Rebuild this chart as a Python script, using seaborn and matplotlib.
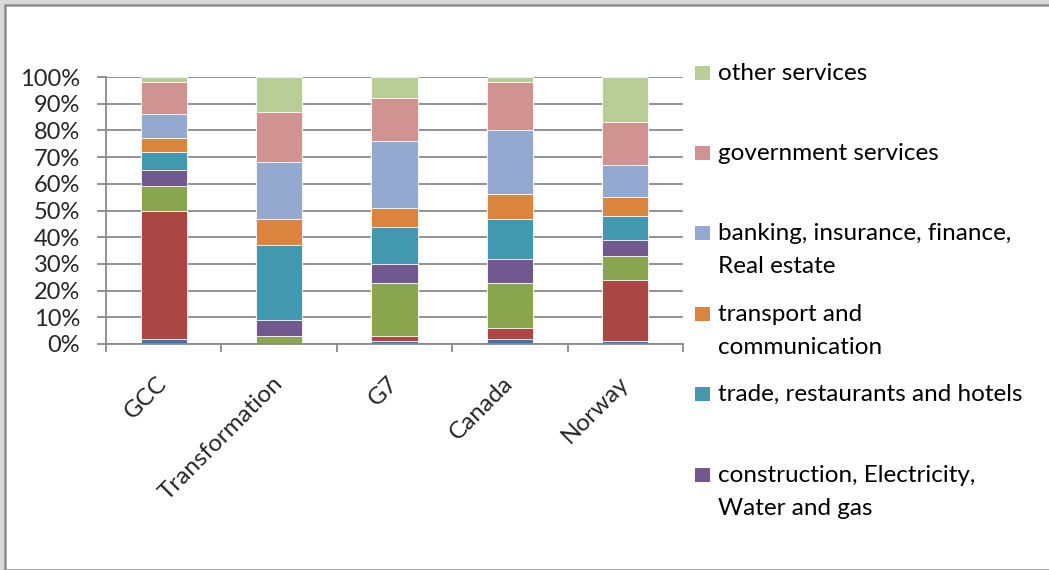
import matplotlib
matplotlib.use("Agg")
import matplotlib.pyplot as plt
from matplotlib.patches import Rectangle
import seaborn as sns
import pandas as pd
import numpy as np

# data (shares of GDP, %)
regions = ["GCC", "Transformation", "G7", "Canada", "Norway"]
sectors = [
    "agriculture",
    "mining and quarrying",
    "manufacturing",
    "construction, Electricity,\nWater and gas",
    "trade, restaurants and hotels",
    "transport and\ncommunication",
    "banking, insurance, finance,\nReal estate",
    "government services",
    "other services",
]
agriculture = [2, 0, 1, 2, 1]
mining = [48, 0, 2, 4, 23]
manufacturing = [9, 3, 20, 17, 9]
construction = [6, 6, 7, 9, 6]
trade = [7, 28, 14, 15, 9]
transport = [5, 10, 7, 9, 7]
banking = [9, 21, 25, 24, 12]
government = [12, 19, 16, 18, 16]
other = [2, 13, 8, 2, 17]
values = [agriculture, mining, manufacturing, construction, trade,
          transport, banking, government, other]

colors = ["#4572A7", "#AA4643", "#89A54E", "#71588F", "#4198AF",
          "#DB843D", "#93A9CF", "#D19392", "#B9CD96"]
# only the top six legend entries fit in the visible frame
legend_shown = 6

W, H = 1049, 570
sns.set_style("white")
plt.rcParams["font.family"] = ["Lato", "DejaVu Sans"]
fs = 17
fs_leg = 17.5

fig = plt.figure(figsize=(W / 100, H / 100), dpi=100)
fig.patch.set_facecolor("#d9d9d9")
fig.add_artist(Rectangle((5 / W, 0), 1.0, 1 - 5 / H, transform=fig.transFigure,
                         facecolor="white", edgecolor="#8c8c8c", linewidth=1.8,
                         zorder=-10))

ax = fig.add_axes([106 / W, (H - 344) / H, (683 - 106) / W, (344 - 77) / H])
ax.set_facecolor("none")

cum = np.cumsum(np.array(values), axis=0)
for i in range(len(sectors) - 1, -1, -1):
    df = pd.DataFrame({"region": regions, "share": cum[i]})
    sns.barplot(data=df, x="region", y="share", color=colors[i], saturation=1,
                width=0.4, edgecolor="white", linewidth=0.6, errorbar=None, ax=ax)

gray = "#8a8a8a"
ax.set_ylim(0, 100)
ax.set_xlim(-0.5, len(regions) - 0.5)
ax.set_yticks(range(0, 101, 10))
ax.set_yticklabels([f"{v}%" for v in range(0, 101, 10)], fontsize=fs)
ax.yaxis.grid(True, color=gray, linewidth=1.3)
ax.xaxis.grid(False)
ax.set_axisbelow(True)
for s in ["top", "right"]:
    ax.spines[s].set_visible(False)
for s in ["left", "bottom"]:
    ax.spines[s].set_color(gray)
    ax.spines[s].set_linewidth(1.3)
ax.tick_params(axis="y", which="major", length=6.5, width=1.3, color=gray,
               direction="out", pad=12, left=True)
ax.set_xticks(np.arange(-0.5, len(regions)), minor=True)
ax.tick_params(axis="x", which="minor", length=6, width=1.3, color=gray,
               direction="out", bottom=True)
ax.tick_params(axis="x", which="major", length=0, pad=26)
ax.set_xticks(range(len(regions)))
ax.set_xticklabels(regions, fontsize=fs_leg, rotation=45, ha="right", va="center",
                   rotation_mode="anchor")
ax.set_xlabel("")
ax.set_ylabel("")

# legend, Excel style: top entry is the last series
line_gap = 33
first_lines = [72, 152, 232, 313, 393, 474]
for k in range(legend_shown):
    i = len(sectors) - 1 - k
    base = first_lines[k] + 8
    fig.add_artist(Rectangle((695 / W, (H - base) / H), 15 / W, 14 / H,
                             transform=fig.transFigure, facecolor=colors[i],
                             edgecolor="none"))
    for j, line in enumerate(sectors[i].split("\n")):
        fig.text(718 / W, (H - base - j * line_gap) / H, line, fontsize=fs_leg,
                 va="baseline", ha="left", color="black")

fig.savefig("out.png", dpi=100, facecolor=fig.get_facecolor())
